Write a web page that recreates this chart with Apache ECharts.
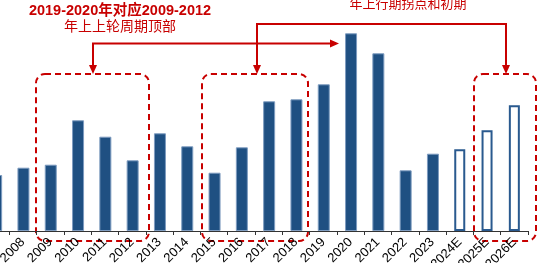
<!DOCTYPE html>
<html>
<head>
<meta charset="utf-8">
<script src="https://cdn.jsdelivr.net/npm/echarts@6/dist/echarts.min.js"></script>
<style>
html,body{margin:0;padding:0;background:#fff;}
#chart{width:549px;height:263px;}
</style>
</head>
<body>
<div id="chart"></div>
<script>
var categories = ['2007','2008','2009','2010','2011','2012','2013','2014','2015','2016','2017','2018','2019','2020','2021','2022','2023','2024E','2025E','2026E'];
var actualValues = [56, 63.3, 66.3, 110.7, 94.3, 70.7, 97.7, 84.7, 58.3, 83.7, 129.7, 131.7, 146.7, 197.7, 177.7, 60.7, 77.3, null, null, null];
var forecastValues = [null, null, null, null, null, null, null, null, null, null, null, null, null, null, null, null, null, 81.7, 100.7, 125.7];
var titleText1 = '2019-2020年对应2009-2012';
var titleText2 = '年上上轮周期顶部';
var titleText3 = '年上行期拐点和初期';

var RED = '#c80000';
var BLUE = '#1f5082';
var chart = echarts.init(document.getElementById('chart'));

function dashedBox(x1, x2, y1, y2) {
  return {type:'rect', shape:{x:x1, y:y1, width:x2-x1, height:y2-y1, r:9}, silent:true,
    style:{fill:'none', stroke:RED, lineWidth:2, lineDash:[6,4]}};
}
function line(points) {
  return {type:'polyline', shape:{points:points}, silent:true, style:{stroke:RED, lineWidth:2, fill:null}};
}
function arrowDown(x, y) {
  return {type:'polygon', shape:{points:[[x-4,y-9],[x+4,y-9],[x,y]]}, silent:true, style:{fill:RED}};
}
function arrowRight(x, y) {
  return {type:'polygon', shape:{points:[[x-9,y-4],[x-9,y+4],[x,y]]}, silent:true, style:{fill:RED}};
}

chart.setOption({
  animation:false,
  grid:{left:-18, right:21, top:0, bottom:32, containLabel:false, outerBoundsMode:'none'},
  xAxis:{
    type:'category', data:categories,
    axisLine:{lineStyle:{color:'#333', width:1}},
    axisTick:{show:true, length:4, lineStyle:{color:'#333'}},
    axisLabel:{rotate:45, interval:0, color:'#000', fontSize:13, fontFamily:'Liberation Sans', margin:9, hideOverlap:false}
  },
  yAxis:{type:'value', min:0, max:231, show:false, splitLine:{show:false}},
  series:[
    {type:'bar', data:actualValues, barWidth:12, barGap:'-100%',
     itemStyle:{color:BLUE, borderColor:'#7e9cc0', borderWidth:1}},
    {type:'bar', data:forecastValues, barWidth:11, barGap:'-100%',
     itemStyle:{color:'#fff', borderColor:'#2a5a8f', borderWidth:2}}
  ],
  graphic:[
    dashedBox(36, 149, 74, 241),
    dashedBox(202, 308, 74, 241),
    dashedBox(474, 536, 74, 241),
    line([[93,72],[93,43.5],[336,43.5]]),
    arrowDown(93, 74),
    arrowRight(339, 43.5),
    line([[257,72],[257,24],[506,24],[506,72]]),
    arrowDown(257, 74),
    arrowDown(506, 74),
    {type:'text', silent:true, style:{x:120, y:11, text:titleText1, fill:RED, font:'bold 14.5px "Liberation Sans", "Noto Sans CJK SC"', align:'center', verticalAlign:'middle'}},
    {type:'text', silent:true, style:{x:120, y:26, text:titleText2, fill:RED, font:'14px "Noto Sans CJK SC"', align:'center', verticalAlign:'middle'}},
    {type:'text', silent:true, style:{x:408, y:3, text:titleText3, fill:RED, font:'13px "Noto Sans CJK SC"', align:'center', verticalAlign:'middle'}}
  ]
});
</script>
</body>
</html>
